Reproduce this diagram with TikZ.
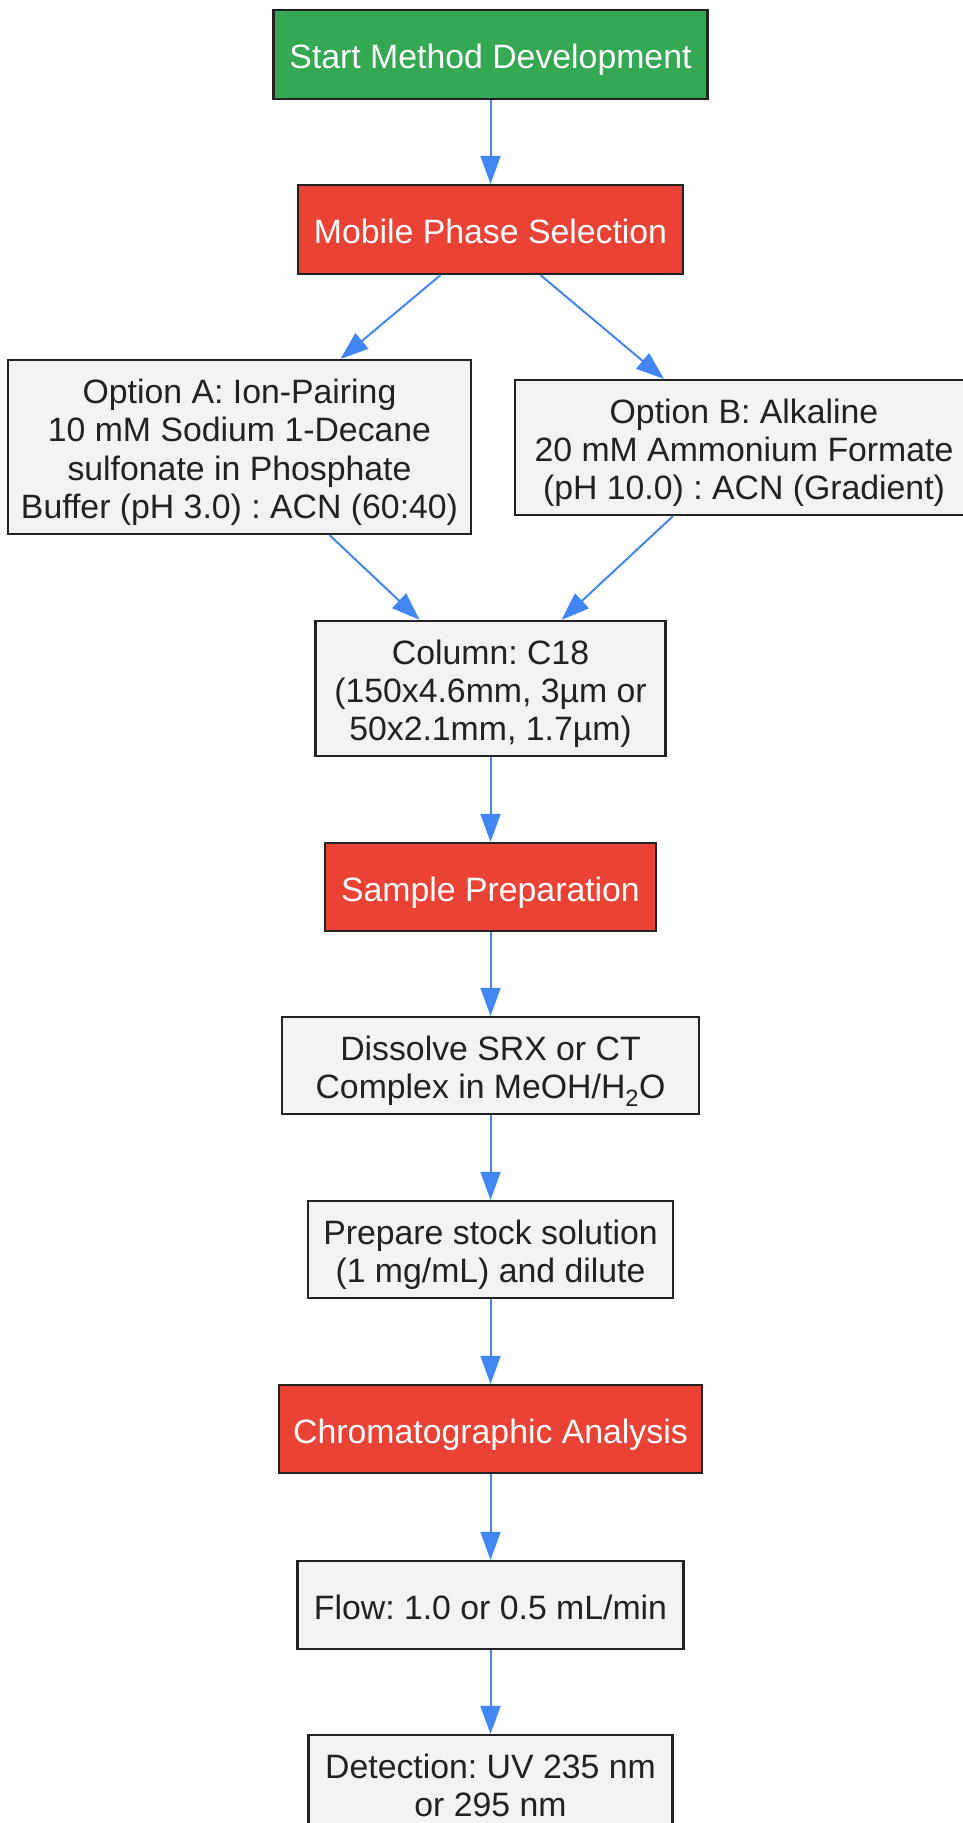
\documentclass[tikz,border=0pt]{standalone}
\usepackage{fontspec}
\setmainfont{Liberation Sans}
\usetikzlibrary{arrows.meta}
\definecolor{gGreen}{HTML}{34A853}
\definecolor{gRed}{HTML}{EA4335}
\definecolor{gBlue}{HTML}{4285F4}
\definecolor{gLight}{HTML}{F1F3F4}
\definecolor{gDark}{HTML}{202124}
\definecolor{gBorder}{HTML}{222222}
\newcommand\firststrut{\rule{0pt}{36pt}}
\newcommand\laststrut{\rule[-8pt]{0pt}{8pt}}
\frenchspacing
\begin{document}
\begin{tikzpicture}[x=1pt,y=-1pt,
  box/.style={draw=gBorder, line width=2.2pt, fill=gLight, text=gDark, align=center,
    inner sep=0pt, font=\fontsize{33.8}{38.4}\selectfont\frenchspacing},
  hlbox/.style={box, text=white},
  flowarrow/.style={draw=gBlue, line width=2pt, -{Triangle[length=28pt,width=20pt]}}]
\useasboundingbox (0,0) rectangle (962,1823);
\node[hlbox, fill=gGreen, minimum width=434pt, minimum height=89pt] (start) at (490.5,54.5) {\firststrut Start Method Development\laststrut};
\node[hlbox, fill=gRed, minimum width=385pt, minimum height=89pt] (mob) at (490.5,229.5) {\firststrut Mobile Phase Selection\laststrut};
\node[box, minimum width=463pt, minimum height=174pt] (optA) at (239.5,447) {\firststrut Option A: Ion-Pairing\\10 mM Sodium 1-Decane\\sulfonate in Phosphate\\Buffer (pH 3.0) : ACN (60:40)\laststrut};
\node[box, minimum width=458pt, minimum height=135pt] (optB) at (744,447.5) {\firststrut Option B: Alkaline\\20 mM Ammonium Formate\\(pH 10.0) : ACN (Gradient)\laststrut};
\node[box, minimum width=350pt, minimum height=135pt] (col) at (490.5,688.5) {\firststrut Column: C18\\(150x4.6mm, 3µm or\\50x2.1mm, 1.7µm)\laststrut};
\node[hlbox, fill=gRed, minimum width=331pt, minimum height=88pt] (samp) at (490.5,887) {\firststrut Sample Preparation\laststrut};
\node[box, minimum width=417pt, minimum height=97pt] (diss) at (490.5,1065.5) {\firststrut Dissolve SRX or CT\\Complex in MeOH/H\textsubscript{2}O\laststrut};
\node[box, minimum width=365pt, minimum height=97pt] (prep) at (490.5,1249.5) {\firststrut Prepare stock solution\\(1 mg/mL) and dilute\laststrut};
\node[hlbox, fill=gRed, minimum width=423pt, minimum height=88pt] (chrom) at (490.5,1429) {\firststrut Chromatographic Analysis\laststrut};
\node[box, minimum width=386pt, minimum height=88pt] (flow) at (490.5,1605) {\firststrut Flow: 1.0 or 0.5 mL/min\laststrut};
\node[box, minimum width=364pt, minimum height=97pt] (det) at (490.5,1783.5) {\firststrut Detection: UV 235 nm\\or 295 nm\laststrut};
\draw[flowarrow] (start) -- (mob);
\draw[flowarrow] ([xshift=-50pt]mob.south) -- ([xshift=101pt]optA.north);
\draw[flowarrow] ([xshift=50pt]mob.south) -- ([xshift=-80pt]optB.north);
\draw[flowarrow] ([xshift=90pt]optA.south) -- ([xshift=-71pt]col.north);
\draw[flowarrow] ([xshift=-71pt]optB.south) -- ([xshift=71pt]col.north);
\draw[flowarrow] (col) -- (samp);
\draw[flowarrow] (samp) -- (diss);
\draw[flowarrow] (diss) -- (prep);
\draw[flowarrow] (prep) -- (chrom);
\draw[flowarrow] (chrom) -- (flow);
\draw[flowarrow] (flow) -- (det);
\end{tikzpicture}
\end{document}
